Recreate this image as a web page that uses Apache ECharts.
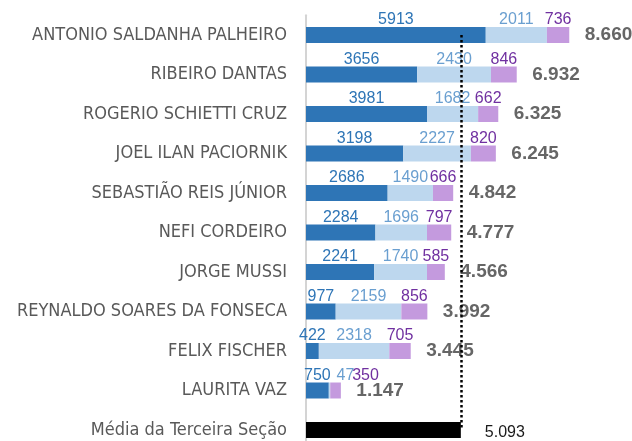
<!DOCTYPE html>
<html>
<head>
<meta charset="utf-8">
<script src="https://cdn.jsdelivr.net/npm/echarts@6/dist/echarts.min.js"></script>
<style>
  html, body { margin: 0; padding: 0; background: #fff; }
  #chart { width: 632px; height: 441px; }
</style>
</head>
<body>
<div id="chart"></div>
<script>
// dados
const ministros = [
  'ANTONIO SALDANHA PALHEIRO',
  'RIBEIRO DANTAS',
  'ROGERIO SCHIETTI CRUZ',
  'JOEL ILAN PACIORNIK',
  'SEBASTIÃO REIS JÚNIOR',
  'NEFI CORDEIRO',
  'JORGE MUSSI',
  'REYNALDO SOARES DA FONSECA',
  'FELIX FISCHER',
  'LAURITA VAZ',
  'Média da Terceira Seção'
]
const parte1 = [5913, 3656, 3981, 3198, 2686, 2284, 2241, 977, 422, 750]
const parte2 = [2011, 2430, 1682, 2227, 1490, 1696, 1740, 2159, 2318, 47]
const parte3 = [736, 846, 662, 820, 666, 797, 585, 856, 705, 350]
const media = 5093

const totais = parte1.map((v, i) => v + parte2[i] + parte3[i])

// formato pt-BR: 8.660
const fmt = (n) => String(n).replace(/\B(?=(\d{3})+(?!\d))/g, '.')

// deslocamento dos rótulos apertados (LAURITA VAZ)
const nudge = { 1: { 9: [16, 0] }, 2: { 9: [30, 0] } }

const makeSeg = (name, arr, barColor, labelColor, k) => ({
  name,
  type: 'bar',
  stack: 'total',
  barWidth: 16,
  itemStyle: { color: barColor },
  label: {
    show: true,
    position: 'top',
    distance: -1,
    color: labelColor,
    fontFamily: 'Liberation Sans',
    fontSize: 16
  },
  data: arr.map((v, i) => {
    const item = { value: v }
    if (nudge[k] && nudge[k][i]) item.label = { offset: nudge[k][i] }
    return item
  }).concat(['-'])
})

const chart = echarts.init(document.getElementById('chart'))

chart.setOption({
  animation: false,
  grid: { left: 306, top: 15.25, width: 304, height: 434.5, outerBoundsMode: 'none', containLabel: false },
  xAxis: {
    type: 'value',
    min: 0,
    max: 10000,
    show: false
  },
  yAxis: {
    type: 'category',
    inverse: true,
    data: ministros,
    axisTick: { show: false },
    axisLine: { show: true, lineStyle: { color: '#d4d4d4', width: 2 } },
    axisLabel: {
      margin: 19,
      color: '#595959',
      fontFamily: 'DejaVu Sans Condensed',
      fontSize: 18
    }
  },
  series: [
    makeSeg('Parte 1', parte1, '#2e75b6', '#2e75b6', 0),
    makeSeg('Parte 2', parte2, '#bdd7ee', '#6a9fd0', 1),
    makeSeg('Parte 3', parte3, '#c49ade', '#7030a0', 2),
    {
      name: 'Total',
      type: 'scatter',
      symbolSize: 1,
      itemStyle: { color: 'rgba(0,0,0,0)' },
      label: {
        show: true,
        position: 'right',
        distance: 15,
        formatter: (p) => fmt(p.value[0]),
        color: '#404040',
        fontFamily: 'Liberation Sans',
        fontWeight: 'bold',
        fontSize: 19
      },
      data: totais.map((t, i) => [t, ministros[i]])
    },
    {
      name: 'Média',
      type: 'bar',
      stack: 'total',
      barWidth: 16,
      z: 5,
      itemStyle: { color: '#000' },
      label: {
        show: true,
        position: 'right',
        distance: 24,
        offset: [0, 3],
        formatter: (p) => fmt(p.value),
        color: '#1a1a1a',
        fontFamily: 'Liberation Sans',
        fontSize: 16
      },
      data: parte1.map(() => '-').concat([media]),
      markLine: {
        silent: true,
        symbol: 'none',
        label: { show: false },
        lineStyle: { color: '#000', width: 2.5, type: [2.5, 2.5] },
        data: [[
          { coord: [media, ministros[0]] },
          { coord: [media, ministros[ministros.length - 1]] }
        ]]
      }
    }
  ]
})
</script>
</body>
</html>
